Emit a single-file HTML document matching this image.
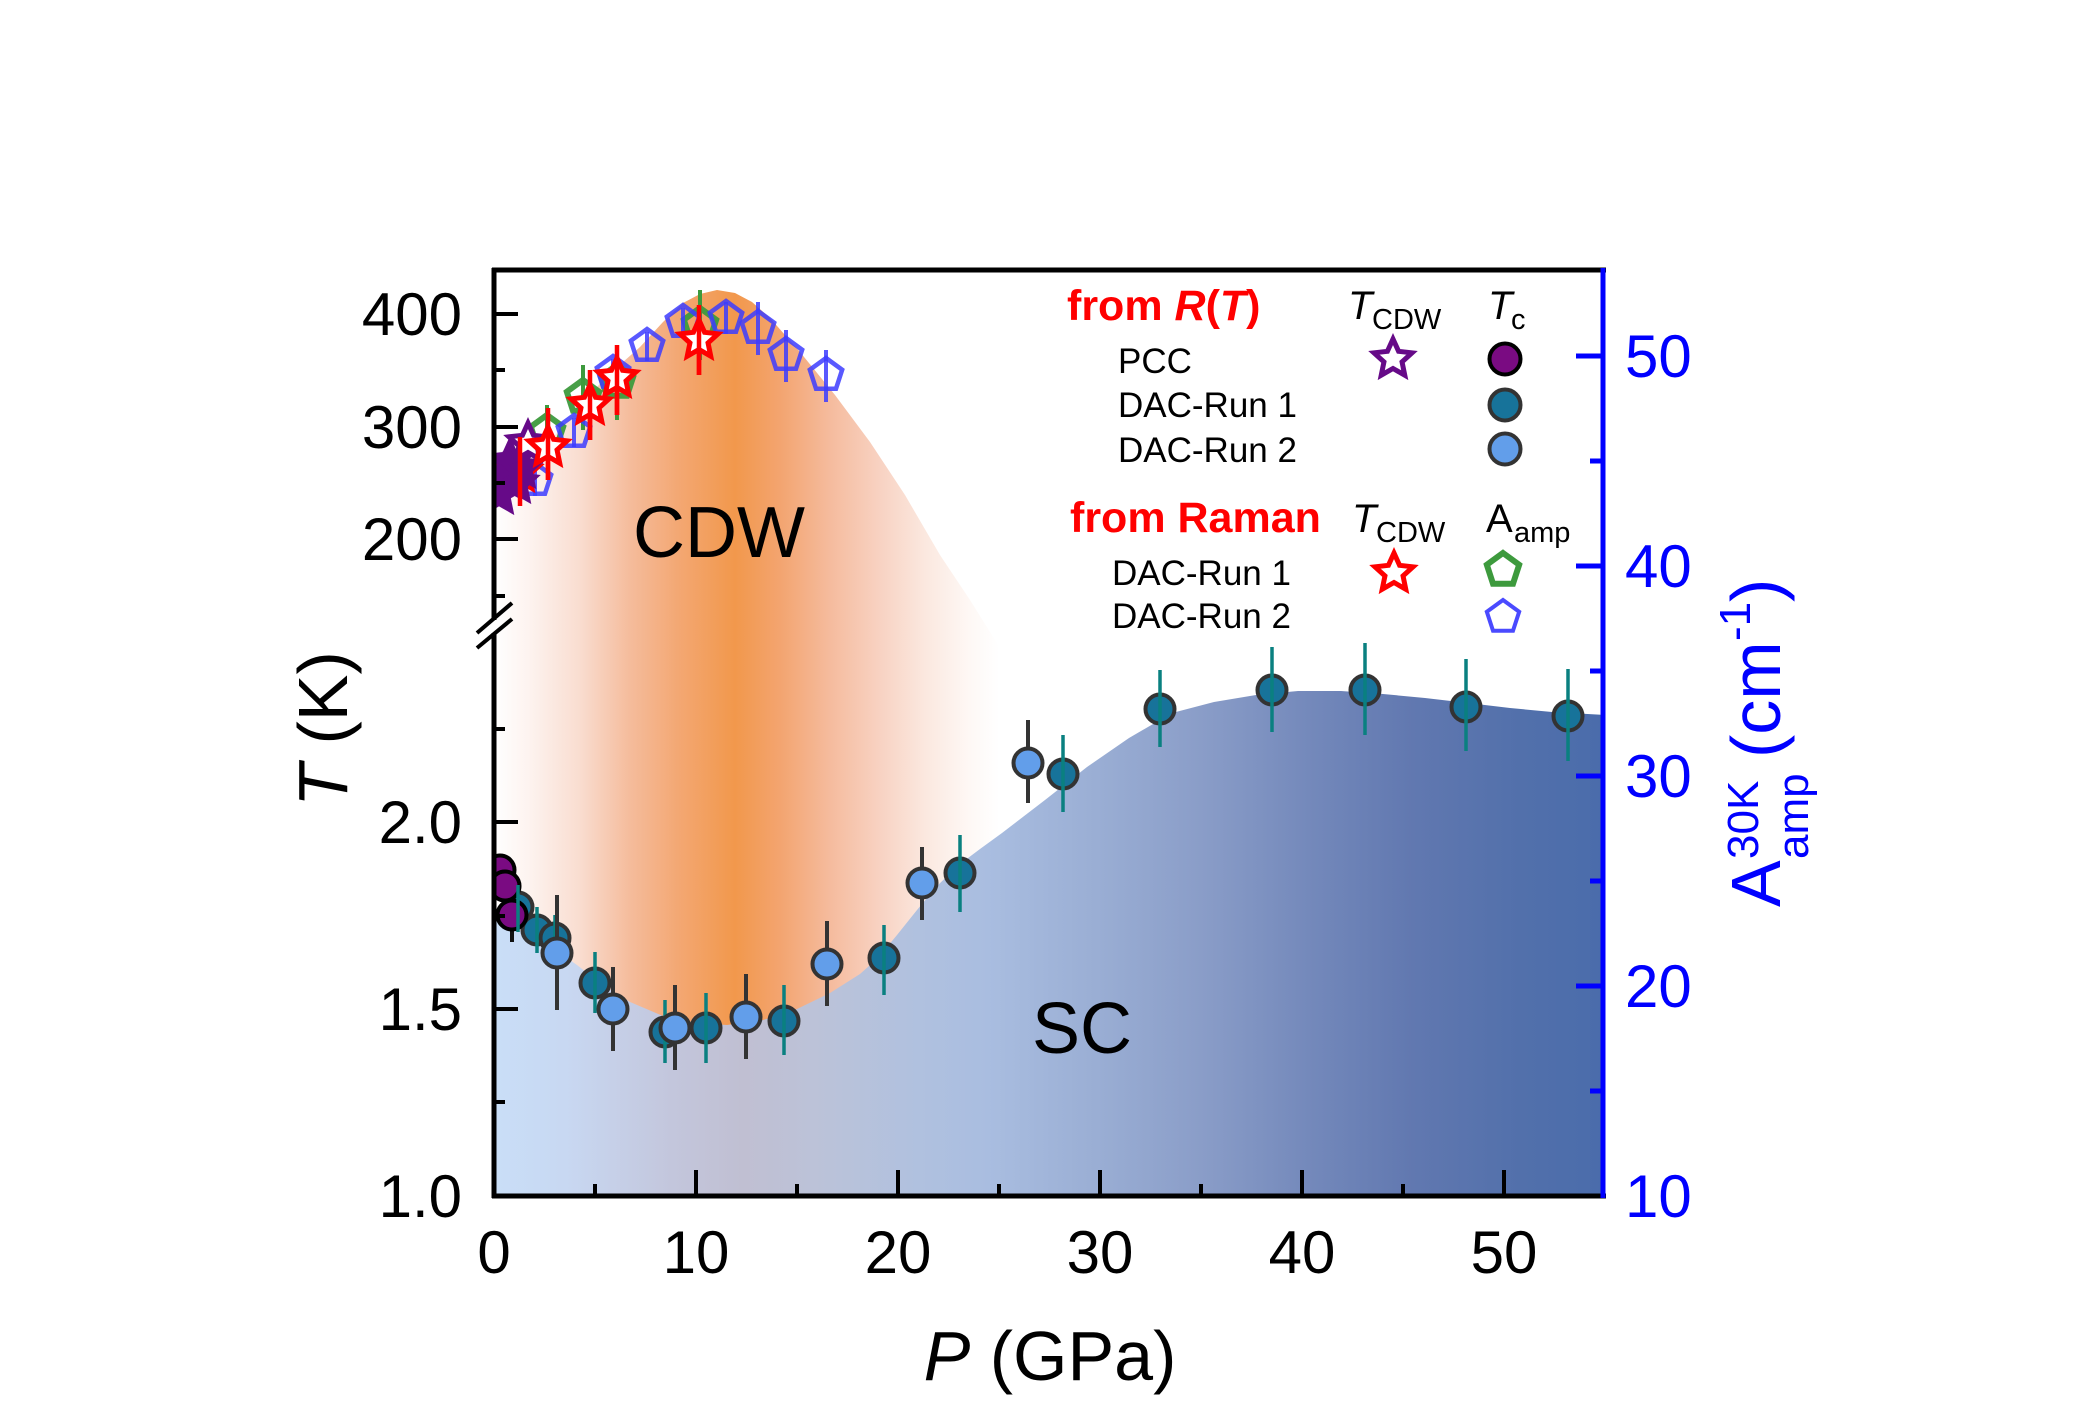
<!DOCTYPE html>
<html><head><meta charset="utf-8"><style>
html,body{margin:0;padding:0;background:#fff;}
svg{display:block;}
text{font-family:"Liberation Sans",Arial,sans-serif;}
</style></head><body>
<svg width="2080" height="1428" viewBox="0 0 2080 1428" xmlns="http://www.w3.org/2000/svg">
<defs>
<linearGradient id="og" gradientUnits="userSpaceOnUse" x1="494" y1="0" x2="1605" y2="0">
<stop offset="0" stop-color="#ffffff"/>
<stop offset="0.032" stop-color="#fdf3ef"/>
<stop offset="0.077" stop-color="#f9ddd0"/>
<stop offset="0.122" stop-color="#f5bc9c"/>
<stop offset="0.167" stop-color="#f3a772"/>
<stop offset="0.217" stop-color="#f2984c"/>
<stop offset="0.257" stop-color="#f3a46f"/>
<stop offset="0.302" stop-color="#f5bb9d"/>
<stop offset="0.347" stop-color="#f8d2c2"/>
<stop offset="0.388" stop-color="#fbe8df"/>
<stop offset="0.428" stop-color="#fef8f5"/>
<stop offset="0.455" stop-color="#ffffff"/>
<stop offset="1" stop-color="#ffffff"/>
</linearGradient>
<linearGradient id="sg" gradientUnits="userSpaceOnUse" x1="494" y1="0" x2="1605" y2="0">
<stop offset="0" stop-color="#c9def7"/>
<stop offset="0.064" stop-color="#c8d8f2"/>
<stop offset="0.16" stop-color="#c3c6dc"/>
<stop offset="0.224" stop-color="#c0bfd2"/>
<stop offset="0.287" stop-color="#bcc2d8"/>
<stop offset="0.382" stop-color="#b0c1df"/>
<stop offset="0.445" stop-color="#a9bde0"/>
<stop offset="0.542" stop-color="#9aaed4"/>
<stop offset="0.636" stop-color="#8a9dc8"/>
<stop offset="0.733" stop-color="#7489bb"/>
<stop offset="0.827" stop-color="#6178b0"/>
<stop offset="0.924" stop-color="#5270ab"/>
<stop offset="1" stop-color="#4a6cab"/>
</linearGradient>
<clipPath id="pc"><rect x="496" y="272" width="1105" height="922"/></clipPath>
<path id="star" d="M0,-20 L5.58,-7.69 L19.02,-6.18 L9.04,2.94 L11.76,16.18 L0,9.5 L-11.76,16.18 L-9.04,2.94 L-19.02,-6.18 L-5.58,-7.69 Z"/>
<polygon id="pent" points="0,-17 16.17,-5.25 9.99,13.75 -9.99,13.75 -16.17,-5.25"/>
</defs>

<g clip-path="url(#pc)">
<path fill="url(#og)" d="M494,482 L520,470 L545,447 L575,412 L605,378 L640,347 L663,322 L683,303 L700,294 L717,290 L735,293 L752,302 L770,318 L800,352 L835,395 L870,442 L905,495 L940,555 L970,600 L995,640 L1020,680 L1045,720 L1070,760 L1095,800 L1100,1196 L494,1196 Z"/>
<path fill="url(#sg)" d="M494,920 L515,928 L537,940 L560,953 L577,965 L600,983 L630,1002 L663,1016 L697,1023 L727,1025 L763,1020 L797,1009 L830,993 L860,974 L878,958 L897,935 L917,910 L937,886 L960,864 L980,849 L1002,833 L1045,800 L1087,767 L1129,738 L1172,713 L1214,702 L1256,695 L1298,691 L1341,691 L1383,694 L1425,698 L1468,703 L1510,708 L1552,712 L1605,715 L1605,1196 L494,1196 Z"/>

<g stroke="#3d9a3d" stroke-width="4">
<line x1="547" y1="405" x2="547" y2="460"/>
<line x1="583" y1="365" x2="583" y2="430"/>
<line x1="617" y1="352" x2="617" y2="420"/>
<line x1="700" y1="290" x2="700" y2="360"/>
</g>
<g fill="none" stroke="#3d9a3d" stroke-width="6" stroke-opacity="0.95">
<use href="#pent" x="547" y="432"/>
<use href="#pent" x="583" y="397"/>
<use href="#pent" x="617" y="382"/>
<use href="#pent" x="700" y="325"/>
</g>
<g stroke="#3c3cff" stroke-width="4" stroke-opacity="0.85">
<line x1="535" y1="466" x2="535" y2="496"/>
<line x1="574" y1="418" x2="574" y2="447"/>
<line x1="613" y1="359" x2="613" y2="389"/>
<line x1="647" y1="332" x2="647" y2="361"/>
<line x1="683" y1="308" x2="683" y2="337"/>
<line x1="726" y1="302" x2="726" y2="334"/>
<line x1="758" y1="302" x2="758" y2="355"/>
<line x1="786" y1="330" x2="786" y2="382"/>
<line x1="826" y1="350" x2="826" y2="402"/>
</g>
<g fill="none" stroke="#3c3cff" stroke-width="4.5" stroke-opacity="0.85">
<use href="#pent" x="535" y="480"/>
<use href="#pent" x="574" y="432"/>
<use href="#pent" x="613" y="373"/>
<use href="#pent" x="647" y="346"/>
<use href="#pent" x="683" y="322"/>
<use href="#pent" x="726" y="318"/>
<use href="#pent" x="758" y="328"/>
<use href="#pent" x="786" y="355"/>
<use href="#pent" x="826" y="375"/>
</g>
<use href="#star" x="520" y="472" fill="#fff" stroke="#ff0000" stroke-width="5"/>
<g stroke="#660a88" stroke-width="5" fill="#660a88">
<use href="#star" x="499" y="494"/>
<use href="#star" x="503" y="477"/>
<use href="#star" x="516" y="483"/>
<use href="#star" x="510" y="462"/>
<use href="#star" x="521" y="468"/>
</g>
<use href="#star" x="528" y="443" fill="#fff" stroke="#660a88" stroke-width="5"/>
<g stroke="#ff0000" stroke-width="4.5">
<line x1="520" y1="437" x2="520" y2="506"/>
<line x1="548" y1="408" x2="548" y2="480"/>
<line x1="590" y1="370" x2="590" y2="440"/>
<line x1="617" y1="345" x2="617" y2="415"/>
<line x1="699" y1="305" x2="699" y2="375"/>
</g>
<g fill="#fff" stroke="#ff0000" stroke-width="5">
<use href="#star" x="548" y="447"/>
<use href="#star" x="590" y="405"/>
<use href="#star" x="617" y="378"/>
<use href="#star" x="699" y="340"/>
</g>
<g stroke="#ff0000" stroke-width="4.5">
<line x1="548" y1="430" x2="548" y2="480"/>
<line x1="590" y1="390" x2="590" y2="440"/>
<line x1="617" y1="360" x2="617" y2="415"/>
<line x1="699" y1="322" x2="699" y2="375"/>
</g>

<line x1="512" y1="898" x2="512" y2="942" stroke="#111" stroke-width="4"/>
<g fill="#17739a" stroke="#333" stroke-width="4">
<circle cx="518" cy="907" r="14.5"/>
<circle cx="537" cy="930" r="14.5"/>
<circle cx="555" cy="938" r="14.5"/>
<circle cx="595" cy="983" r="14.5"/>
<circle cx="665" cy="1032" r="14.5"/>
<circle cx="706" cy="1028" r="14.5"/>
<circle cx="784" cy="1021" r="14.5"/>
<circle cx="884" cy="958" r="14.5"/>
<circle cx="960" cy="873" r="14.5"/>
<circle cx="1063" cy="774" r="14.5"/>
<circle cx="1160" cy="709" r="14.5"/>
<circle cx="1272" cy="690" r="14.5"/>
<circle cx="1365" cy="690" r="14.5"/>
<circle cx="1466" cy="707" r="14.5"/>
<circle cx="1568" cy="716" r="14.5"/>
</g>
<g fill="#7a0b82" stroke="#000" stroke-width="4">
<circle cx="500" cy="870" r="14.5"/>
<circle cx="505" cy="886" r="14.5"/>
<circle cx="512" cy="915" r="14.5"/>
</g>
<g stroke="#0a8080" stroke-width="3.5">
<line x1="518" y1="885" x2="518" y2="932"/>
<line x1="537" y1="907" x2="537" y2="953"/>
<line x1="555" y1="915" x2="555" y2="960"/>
<line x1="595" y1="952" x2="595" y2="1013"/>
<line x1="665" y1="1000" x2="665" y2="1063"/>
<line x1="706" y1="993" x2="706" y2="1063"/>
<line x1="784" y1="985" x2="784" y2="1055"/>
<line x1="884" y1="925" x2="884" y2="995"/>
<line x1="960" y1="835" x2="960" y2="912"/>
<line x1="1063" y1="735" x2="1063" y2="812"/>
<line x1="1160" y1="670" x2="1160" y2="747"/>
<line x1="1272" y1="647" x2="1272" y2="732"/>
<line x1="1365" y1="643" x2="1365" y2="735"/>
<line x1="1466" y1="659" x2="1466" y2="751"/>
<line x1="1568" y1="669" x2="1568" y2="761"/>
</g>
<g stroke="#333" stroke-width="4">
<line x1="557" y1="895" x2="557" y2="1010"/>
<line x1="613" y1="967" x2="613" y2="1051"/>
<line x1="675" y1="985" x2="675" y2="1070"/>
<line x1="746" y1="974" x2="746" y2="1059"/>
<line x1="827" y1="921" x2="827" y2="1006"/>
<line x1="922" y1="847" x2="922" y2="920"/>
<line x1="1028" y1="720" x2="1028" y2="803"/>
</g>
<g fill="#629eea" stroke="#333" stroke-width="4">
<circle cx="557" cy="953" r="14.5"/>
<circle cx="613" cy="1009" r="14.5"/>
<circle cx="675" cy="1028" r="14.5"/>
<circle cx="746" cy="1017" r="14.5"/>
<circle cx="827" cy="964" r="14.5"/>
<circle cx="922" cy="883" r="14.5"/>
<circle cx="1028" cy="763" r="14.5"/>
</g>
</g>

<text x="633" y="557" font-size="72" fill="#000">CDW</text>
<text x="1032" y="1053" font-size="72" fill="#000">SC</text>

<text x="1067" y="320" font-size="43" font-weight="bold" fill="#ff0000">from <tspan font-style="italic">R</tspan>(<tspan font-style="italic">T</tspan>)</text>
<text x="1348" y="319" font-size="40" font-style="italic">T</text>
<text x="1372" y="329" font-size="29">CDW</text>
<text x="1488" y="319" font-size="40" font-style="italic">T</text>
<text x="1511" y="329" font-size="29">c</text>
<text x="1118" y="373" font-size="35">PCC</text>
<text x="1118" y="417" font-size="35">DAC-Run 1</text>
<text x="1118" y="462" font-size="35">DAC-Run 2</text>
<use href="#star" x="1393" y="359" fill="#fff" stroke="#660a88" stroke-width="5"/>
<circle cx="1505" cy="359" r="15.5" fill="#7a0b82" stroke="#000" stroke-width="4"/>
<circle cx="1505" cy="405" r="15.5" fill="#17739a" stroke="#333" stroke-width="4"/>
<circle cx="1505" cy="449" r="15.5" fill="#629eea" stroke="#333" stroke-width="4"/>
<text x="1070" y="532" font-size="43" font-weight="bold" fill="#ff0000">from Raman</text>
<text x="1352" y="532" font-size="40" font-style="italic">T</text>
<text x="1376" y="542" font-size="29">CDW</text>
<text x="1486" y="532" font-size="40">A</text>
<text x="1514" y="542" font-size="29">amp</text>
<text x="1112" y="585" font-size="35">DAC-Run 1</text>
<text x="1112" y="628" font-size="35">DAC-Run 2</text>
<use href="#star" x="1394" y="573" fill="#fff" stroke="#ff0000" stroke-width="5"/>
<use href="#pent" x="1503" y="570" fill="none" stroke="#3d9a3d" stroke-width="6"/>
<use href="#pent" x="1503" y="617" fill="none" stroke="#4a4aff" stroke-width="4"/>

<line x1="492" y1="270" x2="1606" y2="270" stroke="#000" stroke-width="5"/>
<line x1="492" y1="1196" x2="1606" y2="1196" stroke="#000" stroke-width="5"/>
<line x1="494" y1="268" x2="494" y2="1198" stroke="#000" stroke-width="5"/>
<line x1="1603" y1="268" x2="1603" y2="1198" stroke="#0000ff" stroke-width="5"/>
<rect x="489" y="620" width="11" height="13" fill="#fff"/>
<line x1="477" y1="633" x2="512" y2="603" stroke="#000" stroke-width="4"/>
<line x1="477" y1="648" x2="512" y2="619" stroke="#000" stroke-width="4"/>

<g stroke="#000" stroke-width="4">
<line x1="494" y1="314" x2="518" y2="314"/>
<line x1="494" y1="427" x2="518" y2="427"/>
<line x1="494" y1="539" x2="518" y2="539"/>
<line x1="494" y1="370" x2="505" y2="370"/>
<line x1="494" y1="483" x2="505" y2="483"/>
<line x1="494" y1="596" x2="505" y2="596"/>
<line x1="494" y1="822" x2="518" y2="822"/>
<line x1="494" y1="1009" x2="518" y2="1009"/>
<line x1="494" y1="729" x2="505" y2="729"/>
<line x1="494" y1="916" x2="505" y2="916"/>
<line x1="494" y1="1102" x2="505" y2="1102"/>
</g>
<g stroke="#000" stroke-width="4">
<line x1="696" y1="1196" x2="696" y2="1170"/>
<line x1="898" y1="1196" x2="898" y2="1170"/>
<line x1="1100" y1="1196" x2="1100" y2="1170"/>
<line x1="1302" y1="1196" x2="1302" y2="1170"/>
<line x1="1504" y1="1196" x2="1504" y2="1170"/>
<line x1="595" y1="1196" x2="595" y2="1184"/>
<line x1="797" y1="1196" x2="797" y2="1184"/>
<line x1="999" y1="1196" x2="999" y2="1184"/>
<line x1="1201" y1="1196" x2="1201" y2="1184"/>
<line x1="1403" y1="1196" x2="1403" y2="1184"/>
</g>
<g stroke="#0000ff" stroke-width="5">
<line x1="1603" y1="356" x2="1576" y2="356"/>
<line x1="1603" y1="566" x2="1576" y2="566"/>
<line x1="1603" y1="776" x2="1576" y2="776"/>
<line x1="1603" y1="986" x2="1576" y2="986"/>
<line x1="1603" y1="461" x2="1590" y2="461"/>
<line x1="1603" y1="671" x2="1590" y2="671"/>
<line x1="1603" y1="881" x2="1590" y2="881"/>
<line x1="1603" y1="1091" x2="1590" y2="1091"/>
</g>

<g font-size="60" fill="#000" text-anchor="end">
<text x="462" y="335">400</text>
<text x="462" y="448">300</text>
<text x="462" y="560">200</text>
<text x="462" y="843">2.0</text>
<text x="462" y="1030">1.5</text>
<text x="462" y="1217">1.0</text>
</g>
<g font-size="60" fill="#000" text-anchor="middle">
<text x="494" y="1273">0</text>
<text x="696" y="1273">10</text>
<text x="898" y="1273">20</text>
<text x="1100" y="1273">30</text>
<text x="1302" y="1273">40</text>
<text x="1504" y="1273">50</text>
</g>
<g font-size="60" fill="#0000ff">
<text x="1625" y="377">50</text>
<text x="1625" y="587">40</text>
<text x="1625" y="797">30</text>
<text x="1625" y="1007">20</text>
<text x="1625" y="1217">10</text>
</g>

<text x="1050" y="1380" font-size="70" text-anchor="middle"><tspan font-style="italic">P</tspan> (GPa)</text>
<text transform="translate(347,729) rotate(-90)" font-size="70" text-anchor="middle"><tspan font-style="italic">T</tspan> (K)</text>
<g transform="translate(1780,740) rotate(-90)" fill="#0000ff">
<text x="-167" y="0" font-size="70">A</text>
<text x="-119" y="28" font-size="44">amp</text>
<text x="-119" y="-22" font-size="44">30K</text>
<text x="-18" y="0" font-size="70">(cm</text>
<text x="99" y="-30" font-size="44">-1</text>
<text x="138" y="0" font-size="70">)</text>
</g>
</svg>
</body></html>
